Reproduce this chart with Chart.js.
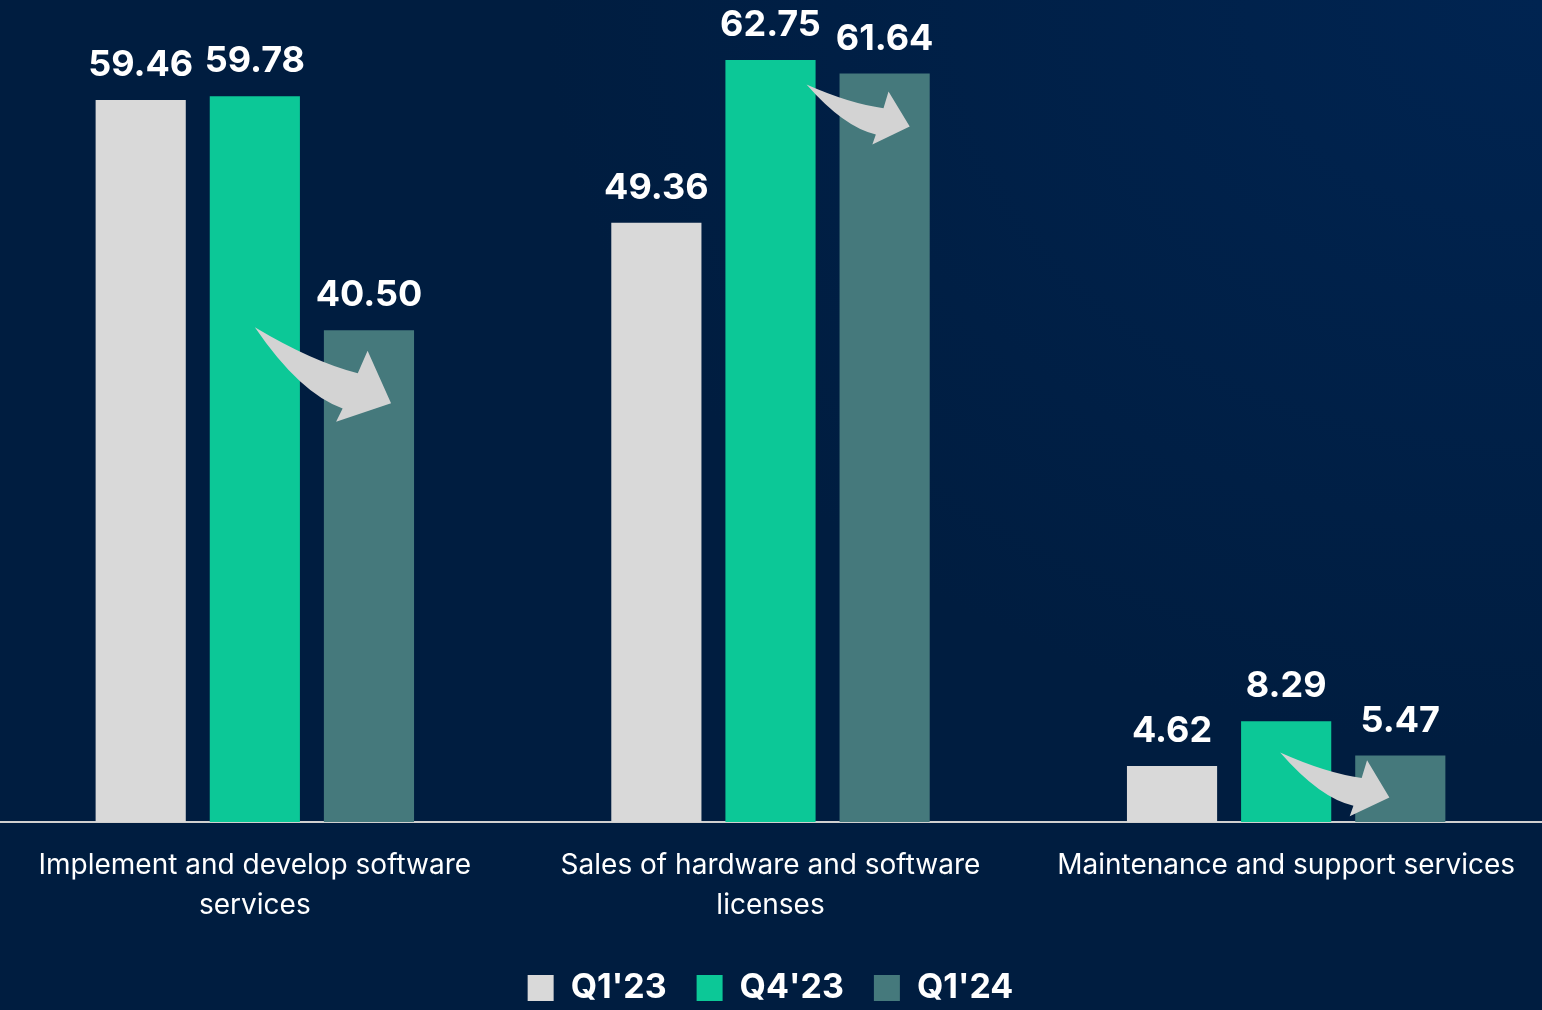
<!DOCTYPE html>
<html>
<head>
<meta charset="utf-8">
<script src="https://cdn.jsdelivr.net/npm/chart.js@4.4.1/dist/chart.umd.min.js"></script>
<style>
html, body { margin: 0; padding: 0; }
body {
    position: relative;
    width: 1542px; height: 1010px; overflow: hidden;
    background: #001d40;
    background-image: radial-gradient(ellipse 1000px 750px at 100% 0%, #002451 0%, rgba(0, 29, 64, 0) 100%);
}
#wrap { position: absolute; left: -3px; top: 0; width: 1547px; height: 1010px; }
</style>
</head>
<body>
<div id="wrap"><canvas id="revenueChart"></canvas></div>
<script>
// Revenue by segment (values as printed on the bars)
const categories = [
    ['Implement and develop software', 'services'],
    ['Sales of hardware and software', 'licenses'],
    ['Maintenance and support services']
];
const seriesNames = ["Q1'23", "Q4'23", "Q1'24"];
const q1_23 = [59.46, 49.36, 4.62];
const q4_23 = [59.78, 62.75, 8.29];
const q1_24 = [40.50, 61.64, 5.47];

const FONT = 'Inter, "Open Sans", sans-serif';
const BOTTOM_PAD = -5;

// value labels above each bar
const valueLabels = {
    id: 'valueLabels',
    afterDatasetsDraw(chart) {
        const ctx = chart.ctx;
        ctx.save();
        ctx.font = 'bold 36px ' + FONT;
        ctx.fillStyle = '#ffffff';
        ctx.textAlign = 'center';
        ctx.textBaseline = 'alphabetic';
        chart.data.datasets.forEach((ds, i) => {
            chart.getDatasetMeta(i).data.forEach((bar, j) => {
                ctx.fillText(ds.data[j].toFixed(2), bar.x, bar.y - 24);
            });
        });
        ctx.restore();
    }
};

// curved "decrease" arrows from the Q4'23 bar into the Q1'24 bar
const trendArrows = {
    id: 'trendArrows',
    afterDatasetsDraw(chart, args, opts) {
        const ctx = chart.ctx;
        const green = chart.getDatasetMeta(1).data;
        const teal = chart.getDatasetMeta(2).data;
        ctx.save();
        ctx.fillStyle = opts.color;
        teal.forEach((bar, i) => {
            const T = { x: green[i].x + opts.tail[i][0], y: bar.y + opts.tail[i][1] };
            const P = { x: bar.x + bar.width / 2 + opts.tip[i][0], y: bar.y + opts.tip[i][1] };
            const dx = P.x - T.x, dy = P.y - T.y, L = Math.hypot(dx, dy);
            const ux = dx / L, uy = dy / L, nx = -uy, ny = ux;
            const pt = (a, p) => [T.x + (ux * a + nx * p) * L, T.y + (uy * a + ny * p) * L];
            ctx.beginPath();
            ctx.moveTo(T.x, T.y);
            ctx.quadraticCurveTo(...pt(0.43, 0.013), ...pt(0.72, -0.064));
            ctx.lineTo(...pt(0.705, -0.22));
            ctx.lineTo(P.x, P.y);
            ctx.lineTo(...pt(0.75, 0.275));
            ctx.lineTo(...pt(0.745, 0.18));
            ctx.quadraticCurveTo(...pt(0.46, 0.23), T.x, T.y);
            ctx.closePath();
            ctx.fill();
        });
        ctx.restore();
    }
};

const ctx = document.getElementById('revenueChart').getContext('2d');
const chart = new Chart(ctx, {
    type: 'bar',
    data: {
        labels: categories,
        datasets: [
            { label: seriesNames[0], data: q1_23, backgroundColor: '#d9d9d9' },
            { label: seriesNames[1], data: q4_23, backgroundColor: '#0cc897' },
            { label: seriesNames[2], data: q1_24, backgroundColor: '#45797c' }
        ]
    },
    options: {
        responsive: true,
        maintainAspectRatio: false,
        animation: false,
        datasets: {
            bar: { categoryPercentage: 0.664, barPercentage: 0.79, borderWidth: 0 }
        },
        layout: { padding: { top: 0, left: 0, right: 0, bottom: BOTTOM_PAD } },
        scales: {
            x: {
                z: 1,
                grid: { display: false, drawTicks: false },
                border: { display: true, color: '#d0d0d0', width: 2 },
                ticks: {
                    color: '#ffffff',
                    padding: 24,
                    font: { family: FONT, size: 28, lineHeight: 1.43 },
                    maxRotation: 0,
                    autoSkip: false
                },
                afterFit(scale) {
                    const lg = scale.chart.legend;
                    scale.height = 1010 - BOTTOM_PAD - 822 - (lg ? lg.height : 0);
                }
            },
            y: {
                display: false,
                min: 0,
                max: 67.7
            }
        },
        plugins: {
            legend: {
                position: 'bottom',
                labels: {
                    color: '#ffffff',
                    boxWidth: 26,
                    boxHeight: 26,
                    padding: 30,
                    font: { family: FONT, size: 34, weight: 'bold' }
                }
            },
            tooltip: { enabled: false },
            trendArrows: {
                color: '#d3d3d3',
                tail: [[0, -3], [36, 11], [-6, -3]],
                tip: [[-23, 73], [-20, 53], [-56, 42]]
            }
        }
    },
    plugins: [trendArrows, valueLabels]
});
</script>
</body>
</html>
